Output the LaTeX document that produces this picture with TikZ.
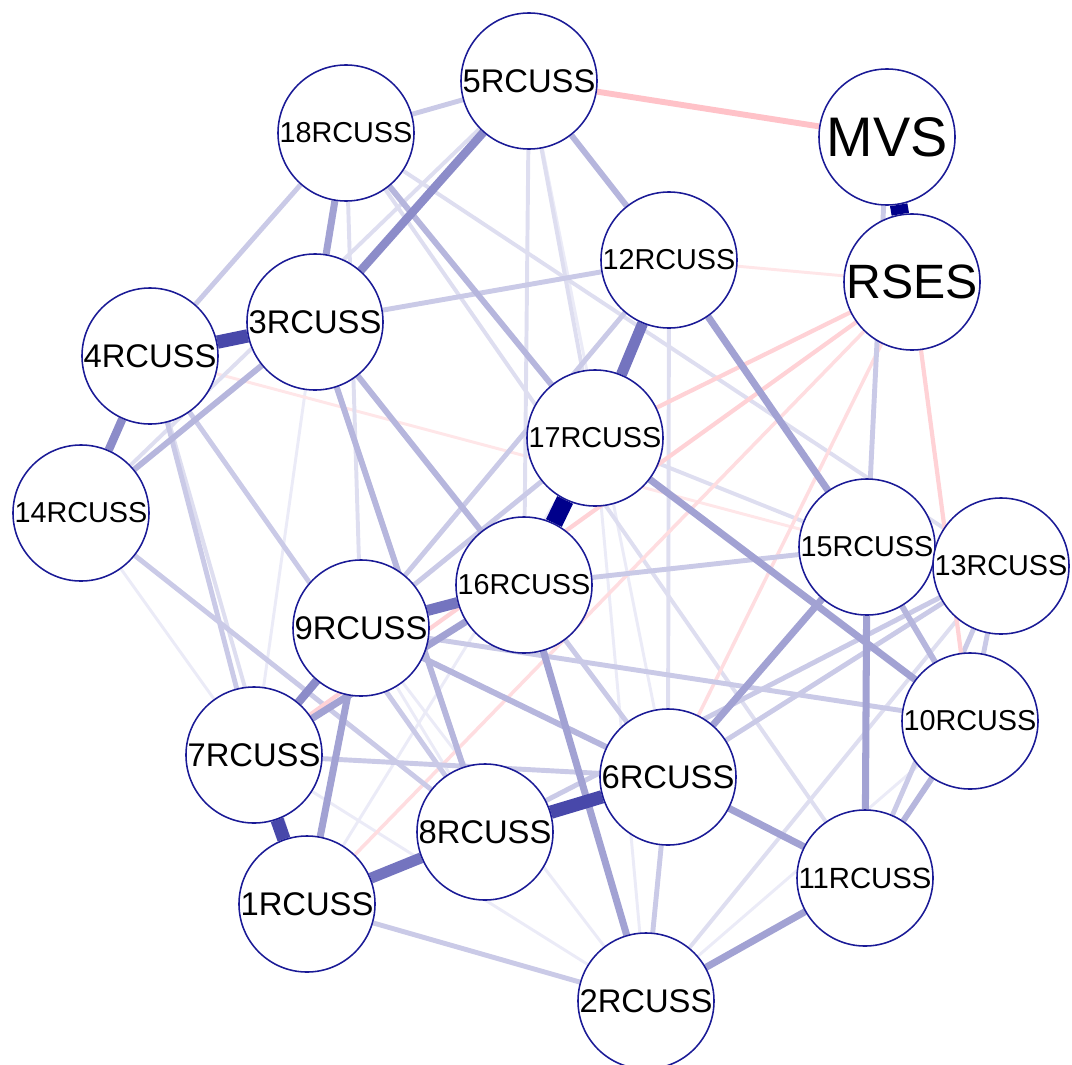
\documentclass[tikz,border=0pt]{standalone}
\usepackage{fontspec}
\setmainfont{Liberation Sans}
\usepackage{graphicx}
\usetikzlibrary{backgrounds}
\definecolor{rim}{RGB}{26,26,150}
\definecolor{bla}{RGB}{235,235,247}
\definecolor{blb}{RGB}{222,222,240}
\definecolor{blc}{RGB}{202,202,231}
\definecolor{bld}{RGB}{182,182,221}
\definecolor{ble}{RGB}{162,162,211}
\definecolor{blf}{RGB}{140,140,201}
\definecolor{blg}{RGB}{116,116,191}
\definecolor{blh}{RGB}{72,72,170}
\definecolor{bli}{RGB}{0,0,139}
\definecolor{rda}{RGB}{255,230,232}
\definecolor{rdb}{RGB}{255,221,224}
\definecolor{rdc}{RGB}{255,210,214}
\definecolor{rdd}{RGB}{255,194,200}
\newcommand{\nlab}[2][3.32cm]{\resizebox{#1}{!}{#2}}
\tikzset{
var/.style = {draw=rim, fill=white, circle, line width=1.1pt, minimum size=3.4cm, inner sep=0pt},
pe1/.style = {draw=bla, line width=2.1pt},
pe2/.style = {draw=blb, line width=2.8pt},
pe3/.style = {draw=blc, line width=3.5pt},
pe4/.style = {draw=bld, line width=4.2pt},
pe5/.style = {draw=ble, line width=5pt},
pe6/.style = {draw=blf, line width=6pt},
pe7/.style = {draw=blg, line width=7.8pt},
pe8/.style = {draw=blh, line width=9.5pt},
pe9/.style = {draw=bli, line width=12.5pt},
ne1/.style = {draw=rda, line width=2.1pt},
ne2/.style = {draw=rdb, line width=2.5pt},
ne3/.style = {draw=rdc, line width=3pt},
ne4/.style = {draw=rdd, line width=4.2pt}
}

\begin{document}
\begin{tikzpicture}[x=0.025cm, y=-0.025cm]
  \useasboundingbox (0,0) rectangle (1072,1065);

  \node [var] (rc5)   at (529,81)   {\nlab{5RCUSS}};
  \node [var] (mvs)   at (887,137)  {\nlab[3.02cm]{MVS}};
  \node [var] (rses)  at (912,282)  {\nlab[3.28cm]{RSES}};
  \node [var] (rc18)  at (346,133)  {\nlab{18RCUSS}};
  \node [var] (rc12)  at (669,260)  {\nlab{12RCUSS}};
  \node [var] (rc3)   at (315,322)  {\nlab{3RCUSS}};
  \node [var] (rc4)   at (150,356)  {\nlab{4RCUSS}};
  \node [var] (rc17)  at (595,438)  {\nlab{17RCUSS}};
  \node [var] (rc14)  at (81,513)   {\nlab{14RCUSS}};
  \node [var] (rc15)  at (867,547)  {\nlab{15RCUSS}};
  \node [var] (rc13)  at (1001,566) {\nlab{13RCUSS}};
  \node [var] (rc16)  at (524,585)  {\nlab{16RCUSS}};
  \node [var] (rc9)   at (361,628)  {\nlab{9RCUSS}};
  \node [var] (rc10)  at (970,721)  {\nlab{10RCUSS}};
  \node [var] (rc7)   at (254,755)  {\nlab{7RCUSS}};
  \node [var] (rc6)   at (668,777)  {\nlab{6RCUSS}};
  \node [var] (rc8)   at (485,832)  {\nlab{8RCUSS}};
  \node [var] (rc11)  at (865,878)  {\nlab{11RCUSS}};
  \node [var] (rc1)   at (307,904)  {\nlab{1RCUSS}};
  \node [var] (rc2)   at (646,1001) {\nlab{2RCUSS}};

  \begin{scope}[on background layer]
  \draw [pe1] (rc5) -- (rc6);
  \draw [pe1] (rc17) -- (rc2);
  \draw [pe1] (rc9) -- (rc2);
  \draw [pe1] (rc7) -- (rc2);
  \draw [pe1] (rc14) -- (rc7);
  \draw [pe1] (rc1) -- (rc17);
  \draw [pe1] (rc9) -- (rc8);
  \draw [pe1] (rc3) -- (rc7);
  \draw [pe1] (rc2) -- (rc10);
  \draw [ne1] (rc4) -- (rc15);
  \draw [ne1] (rses) -- (rc12);
  \draw [pe2] (rc18) -- (rc13);
  \draw [pe2] (rc2) -- (rc13);
  \draw [pe2] (rc17) -- (rc15);
  \draw [pe2] (rc14) -- (rc5);
  \draw [pe2] (rc18) -- (rc9);
  \draw [pe2] (rc4) -- (rc1);
  \draw [pe2] (rc5) -- (rc16);
  \draw [pe2] (rc5) -- (rc17);
  \draw [pe2] (rc12) -- (rc6);
  \draw [pe2] (rc18) -- (rc11);
  \draw [ne2] (rses) -- (rc6);
  \draw [ne2] (rses) -- (rc1);
  \draw [pe3] (rc5) -- (rc18);
  \draw [pe3] (rc3) -- (rc12);
  \draw [pe3] (rc1) -- (rc2);
  \draw [pe3] (rc6) -- (rc2);
  \draw [pe3] (rc13) -- (rc6);
  \draw [pe3] (rc9) -- (rc17);
  \draw [pe3] (rc14) -- (rc8);
  \draw [pe3] (rc4) -- (rc8);
  \draw [pe3] (rc4) -- (rc7);
  \draw [pe3] (rc7) -- (rc6);
  \draw [pe3] (rc16) -- (rc15);
  \draw [pe3] (rc9) -- (rc10);
  \draw [pe3] (mvs) -- (rc15);
  \draw [pe3] (rc16) -- (rc6);
  \draw [pe3] (rc18) -- (rc4);
  \draw [pe3] (rc9) -- (rc12);
  \draw [pe3] (rc13) -- (rc10);
  \draw [pe3] (rc11) -- (rc13);
  \draw [pe3] (rc13) -- (rc8);
  \draw [ne3] (rses) -- (rc17);
  \draw [ne3] (rses) -- (rc7);
  \draw [ne3] (rses) -- (rc10);
  \draw [pe4] (rc18) -- (rc17);
  \draw [pe4] (rc3) -- (rc14);
  \draw [pe4] (rc10) -- (rc11);
  \draw [pe4] (rc15) -- (rc10);
  \draw [pe4] (rc3) -- (rc8);
  \draw [pe4] (rc9) -- (rc6);
  \draw [pe4] (rc5) -- (rc12);
  \draw [pe4] (rc3) -- (rc16);
  \draw [ne4] (rc5) -- (mvs);
  \draw [pe5] (rc18) -- (rc3);
  \draw [pe5] (rc6) -- (rc11);
  \draw [pe5] (rc11) -- (rc2);
  \draw [pe5] (rc15) -- (rc11);
  \draw [pe5] (rc6) -- (rc15);
  \draw [pe5] (rc1) -- (rc9);
  \draw [pe5] (rc7) -- (rc16);
  \draw [pe5] (rc12) -- (rc15);
  \draw [pe5] (rc17) -- (rc10);
  \draw [pe5] (rc16) -- (rc2);
  \draw [pe6] (rc4) -- (rc14);
  \draw [pe6] (rc9) -- (rc7);
  \draw [pe6] (rc5) -- (rc3);
  \draw [pe7] (rc9) -- (rc16);
  \draw [pe7] (rc1) -- (rc8);
  \draw [pe7] (rc12) -- (rc17);
  \draw [pe8] (rc3) -- (rc4);
  \draw [pe8] (rc8) -- (rc6);
  \draw [pe8] (rc7) -- (rc1);
  \draw [pe9] (mvs) -- (rses);
  \draw [pe9] (rc17) -- (rc16);
  \end{scope}
\end{tikzpicture}
\end{document}
